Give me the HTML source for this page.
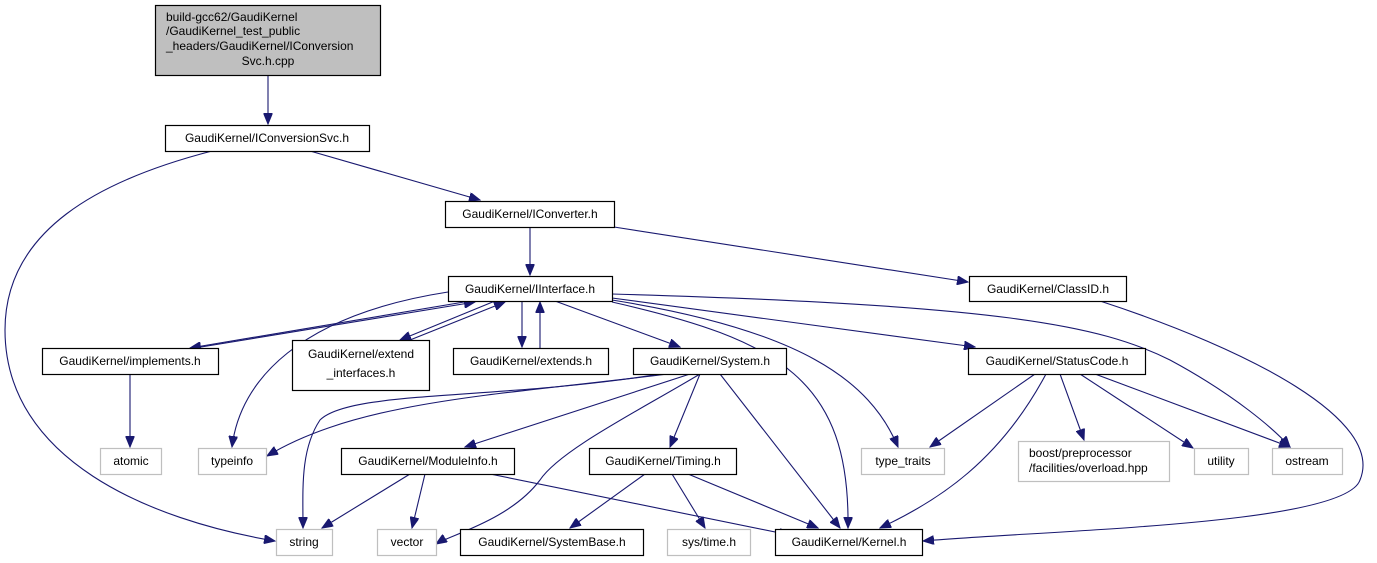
<!DOCTYPE html>
<html><head><meta charset="utf-8"><style>
html,body{margin:0;padding:0;background:#fff;}
svg{display:block;}
text{font-family:"Liberation Sans",sans-serif;font-size:12px;fill:#000;}
.n{fill:#fff;stroke:#000;stroke-width:1.2;}
.g{fill:#fff;stroke:#bfbfbf;stroke-width:1.2;}
.e{fill:none;stroke:#191970;stroke-width:1.1;}
</style></head><body>
<svg width="1377" height="563" viewBox="0 0 1377 563" xmlns="http://www.w3.org/2000/svg">
<defs><marker id="a" markerWidth="12" markerHeight="9" refX="11" refY="4.5" orient="auto" markerUnits="userSpaceOnUse"><path d="M0,0 L11,4.5 L0,9 z" fill="#191970" stroke="#191970"/></marker></defs>
<g class="e" marker-end="url(#a)">
<path d="M268,75 L268,124"/>
<path d="M310,151 L480,200"/>
<path d="M212,151 C100,180 5,230 5,330 C5,460 150,520 275,541"/>
<path d="M530,227 L530,275"/>
<path d="M614,227 L968,282"/>
<path d="M1100,301 C1250,350 1385,420 1360,480 C1345,525 1050,530 923,541"/>
<path d="M470,301 L190,348"/>
<path d="M195,348 L475,302"/>
<path d="M495,301 L400,340"/>
<path d="M410,340 L505,302"/>
<path d="M522,301 L522,347"/>
<path d="M540,348 L540,302"/>
<path d="M555,301 L680,347"/>
<path d="M448,292 C300,315 240,380 232,447"/>
<path d="M612,302 C780,340 850,380 848,528"/>
<path d="M612,300 C800,330 870,380 898,447"/>
<path d="M612,298 L975,347"/>
<path d="M612,294 C1000,305 1100,325 1170,360 C1235,395 1275,430 1290,447"/>
<path d="M130,374 L130,447"/>
<path d="M668,374 C500,395 360,400 267,456"/>
<path d="M660,374 C500,400 350,390 320,420 C300,450 303,490 303,528"/>
<path d="M690,374 L465,447"/>
<path d="M700,374 C640,410 560,450 540,480 C510,520 450,535 436,544"/>
<path d="M700,374 L670,447"/>
<path d="M720,374 L840,528"/>
<path d="M410,474 L322,528"/>
<path d="M425,474 L412,528"/>
<path d="M490,474 L790,535"/>
<path d="M645,474 L570,528"/>
<path d="M672,474 L705,528"/>
<path d="M688,474 L818,528"/>
<path d="M1035,374 L930,447"/>
<path d="M1046,374 C1000,460 940,500 880,528"/>
<path d="M1060,374 L1084,440"/>
<path d="M1080,374 L1193,448"/>
<path d="M1095,374 L1290,447"/>
</g>
<rect x="155.5" y="5.5" width="225" height="70" fill="#bfbfbf" stroke="#000" stroke-width="1.2"/>
<text x="166" y="21">build-gcc62/GaudiKernel</text>
<text x="166" y="35">/GaudiKernel_test_public</text>
<text x="166" y="50">_headers/GaudiKernel/IConversion</text>
<text x="268" y="65" text-anchor="middle">Svc.h.cpp</text>
<g text-anchor="middle">
<rect class="n" x="165.5" y="125.5" width="204" height="26"/><text x="267" y="142">GaudiKernel/IConversionSvc.h</text>
<rect class="n" x="445.5" y="201.5" width="169" height="26"/><text x="530" y="218">GaudiKernel/IConverter.h</text>
<rect class="n" x="448.5" y="276.5" width="164" height="25"/><text x="530" y="293">GaudiKernel/IInterface.h</text>
<rect class="n" x="969.5" y="276.5" width="157" height="25"/><text x="1048" y="293">GaudiKernel/ClassID.h</text>
<rect class="n" x="42.5" y="348.5" width="176" height="26"/><text x="130" y="365">GaudiKernel/implements.h</text>
<rect class="n" x="292.5" y="340.5" width="137" height="50"/><text x="361" y="358">GaudiKernel/extend</text><text x="361" y="377">_interfaces.h</text>
<rect class="n" x="453.5" y="348.5" width="155" height="26"/><text x="531" y="365">GaudiKernel/extends.h</text>
<rect class="n" x="633.5" y="348.5" width="153" height="26"/><text x="710" y="365">GaudiKernel/System.h</text>
<rect class="n" x="968.5" y="348.5" width="177" height="26"/><text x="1057" y="365">GaudiKernel/StatusCode.h</text>
<rect class="g" x="100.5" y="448.5" width="61" height="26"/><text x="131" y="465">atomic</text>
<rect class="g" x="198.5" y="448.5" width="68" height="26"/><text x="232" y="465">typeinfo</text>
<rect class="n" x="341.5" y="448.5" width="173" height="26"/><text x="428" y="465">GaudiKernel/ModuleInfo.h</text>
<rect class="n" x="589.5" y="448.5" width="147" height="26"/><text x="663" y="465">GaudiKernel/Timing.h</text>
<rect class="g" x="861.5" y="448.5" width="83" height="26"/><text x="903" y="465">type_traits</text>
<rect class="g" x="1018.5" y="441.5" width="151" height="40"/><text x="1029" y="457" text-anchor="start">boost/preprocessor</text><text x="1029" y="472" text-anchor="start">/facilities/overload.hpp</text>
<rect class="g" x="1194.5" y="448.5" width="54" height="26"/><text x="1221" y="465">utility</text>
<rect class="g" x="1272.5" y="448.5" width="70" height="26"/><text x="1307" y="465">ostream</text>
<rect class="g" x="276.5" y="529.5" width="56" height="26"/><text x="304" y="546">string</text>
<rect class="g" x="377.5" y="529.5" width="59" height="26"/><text x="407" y="546">vector</text>
<rect class="n" x="460.5" y="529.5" width="183" height="26"/><text x="552" y="546">GaudiKernel/SystemBase.h</text>
<rect class="g" x="667.5" y="529.5" width="83" height="26"/><text x="709" y="546">sys/time.h</text>
<rect class="n" x="775.5" y="529.5" width="147" height="26"/><text x="849" y="546">GaudiKernel/Kernel.h</text>
</g>
</svg>
</body></html>
